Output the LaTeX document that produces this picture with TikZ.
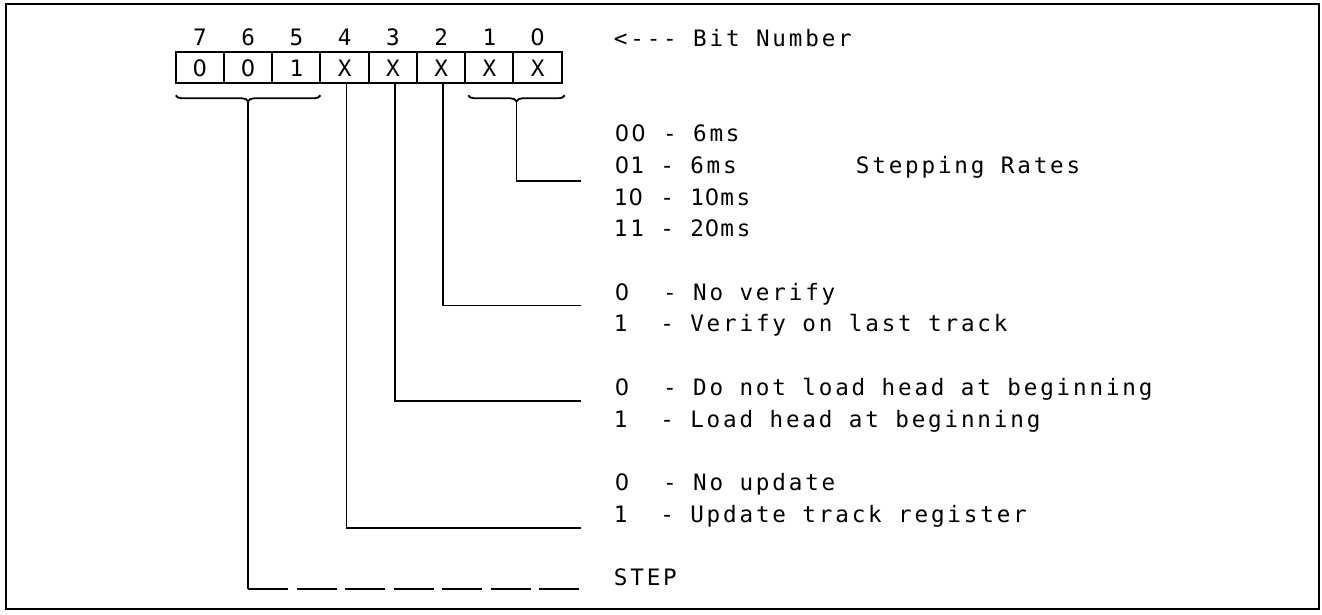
\documentclass[tikz,border=0pt]{standalone}
\usepackage{fontspec}
\newfontfamily\termfont{DejaVu Sans Mono}[LetterSpace=12.5]
\newfontfamily\zerofont{DejaVu Sans}
\usepackage{tikz}
\usetikzlibrary{positioning,calc,decorations.pathreplacing}
\newcommand{\Cx}{175.7}
\newcommand{\Cw}{48.25}
\newcommand{\Ex}{581}
\newcommand{\Tx}{613}
% typewriter pitch: every character and every space takes one step
\newcommand{\termsize}{\termfont\fontsize{11.3}{12}\selectfont
  \fontdimen2\font=8.2pt\fontdimen3\font=0pt\fontdimen4\font=0pt\relax}
% plain (undotted) zero, set in the width of one step
\newcommand{\Zr}{\makebox[8.2pt]{\zerofont 0}}

\begin{document}
\begin{tikzpicture}[x=0.5pt,y=-0.5pt, line width=0.9pt,
  every node/.style={font=\termsize, inner sep=0pt},
  cell/.style={draw, line width=1pt, minimum width=24.125pt, minimum height=15.5pt, outer sep=0pt},
  grp/.style={decorate, decoration={brace, mirror, amplitude=3pt}}]
\useasboundingbox (0,0) rectangle (1322,615);
\draw[line width=1.2pt] (6,4) rectangle (1319,609);
% ---- the register: eight cells with their bit numbers on top
\foreach \b/\lab/\v [count=\i from 0] in {7/7/\Zr,6/6/\Zr,5/5/1,4/4/X,3/3/X,2/2/X,1/1/X,0/\Zr/X} {
  \node[cell] (c\b) at ({\Cx+\Cw*(\i+0.5)},67.8) {\v};
  \node[anchor=base] (n\b) at ({\Cx+\Cw*(\i+0.5)},46) {\lab};
}
\node[anchor=base west] (bitnum) at (\Tx,47) {<{-}{-}{-} Bit Number};
% ---- braces under bits 7-5 and 1-0
\draw[grp] ($(c7.south west)+(0,12)$) -- ($(c5.south east)+(0,12)$);
\draw[grp] ($(c1.south west)+(3,12)$) -- ($(c0.south east)+(3,12)$);
\coordinate (grpA) at ($(c7.south west)!.5!(c5.south east)+(0,18)$);
\coordinate (grpB) at ($(c1.south west)!.5!(c0.south east)+(3,18)$);
% ---- leader ends, left of the text column
\coordinate (rateEnd) at (\Ex,181);
\coordinate (verEnd)  at (\Ex,305.5);
\coordinate (headEnd) at (\Ex,401);
\coordinate (updEnd)  at (\Ex,528);
\coordinate (stepEnd) at (\Ex,589);
\draw (grpB) |- (rateEnd);
\draw ($(c2.south)+(2,0)$) |- (verEnd);
\draw ($(c3.south)+(2,0)$) |- (headEnd);
\draw ($(c4.south)+(2,0)$) |- (updEnd);
\draw (grpA) -- (grpA |- stepEnd);
\draw[dash pattern=on 20pt off 4.25pt] (grpA |- stepEnd) -- (stepEnd);
% ---- meanings, one typed line each
\node[anchor=base west] (r00) at (\Tx,141.7) {\Zr\Zr{} - 6ms};
\node[anchor=base west] (r01) at (\Tx,173.4) {\Zr1 - 6ms};
\node[anchor=base west] (r10) at (\Tx,205.1) {1\Zr{} - 1\Zr ms};
\node[anchor=base west] (r11) at (\Tx,236.8) {11 - 2\Zr ms};
\node[anchor=base west] (rates) at (855,173.4) {Stepping Rates};
\node[anchor=base west] (v0) at (\Tx,300.2) {\Zr\ \ - No verify};
\node[anchor=base west] (v1) at (\Tx,331.9) {1\ \ - Verify on last track};
\node[anchor=base west] (h0) at (\Tx,395.3) {\Zr\ \ - Do not load head at beginning};
\node[anchor=base west] (h1) at (\Tx,427)   {1\ \ - Load head at beginning};
\node[anchor=base west] (u0) at (\Tx,490.4) {\Zr\ \ - No update};
\node[anchor=base west] (u1) at (\Tx,522.1) {1\ \ - Update track register};
\node[anchor=base west] (stp) at (\Tx,585.5) {STEP};
\end{tikzpicture}
\end{document}
